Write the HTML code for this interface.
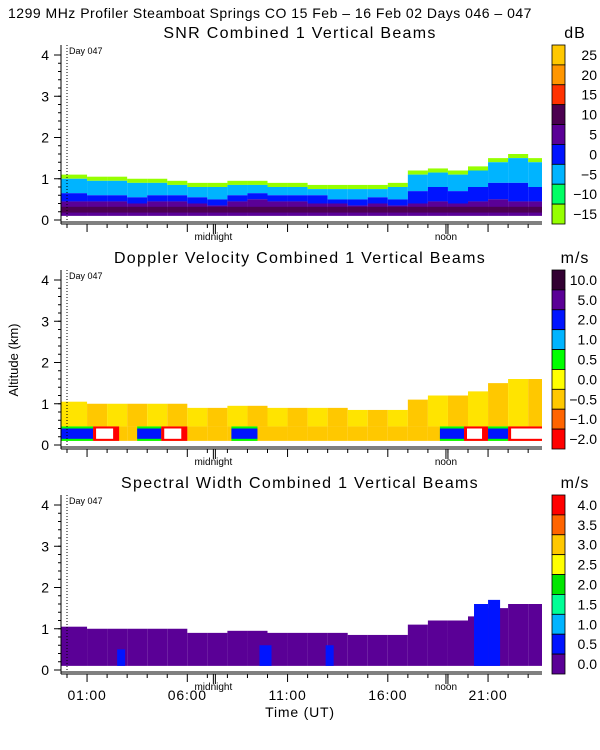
<!DOCTYPE html>
<html><head><meta charset="utf-8"><style>
body{margin:0;background:#fff}
svg{display:block;font-family:"Liberation Sans",sans-serif}
</style></head><body>
<svg id="s" width="600" height="750" viewBox="0 0 600 750">
<text x="8" y="18" font-size="14" letter-spacing="0.5">1299 MHz Profiler  Steamboat Springs CO  15 Feb – 16 Feb 02 Days 046 – 047</text>
<text x="300" y="38" font-size="16" letter-spacing="1.3" text-anchor="middle">SNR Combined 1 Vertical Beams</text>
<text x="300" y="263" font-size="16" letter-spacing="1.3" text-anchor="middle">Doppler Velocity Combined 1 Vertical Beams</text>
<text x="300" y="488" font-size="16" letter-spacing="1.3" text-anchor="middle">Spectral Width Combined 1 Vertical Beams</text>
<text x="18" y="360" font-size="13" text-anchor="middle" transform="rotate(-90 18 360)">Altitude (km)</text>
<text x="300" y="717" font-size="14" letter-spacing="0.8" text-anchor="middle">Time (UT)</text>
<g id="g"></g>
</svg>
<script>
const hours=[0,1,2,3,4,5,6,7,8,9,10,11,12,13,14,15,16,17,18,19,20,21,22,23];
const echoTop=[1.1,1.05,1.05,1.0,1.0,0.95,0.9,0.9,0.95,0.95,0.9,0.9,0.85,0.85,0.85,0.85,0.9,1.2,1.25,1.2,1.3,1.5,1.6,1.5];
const blueTop=[0.65,0.6,0.6,0.55,0.6,0.6,0.55,0.5,0.6,0.65,0.6,0.6,0.6,0.5,0.5,0.55,0.5,0.7,0.8,0.7,0.8,0.9,0.9,0.8];
const purpleTop=[0.45,0.45,0.45,0.4,0.45,0.45,0.4,0.35,0.45,0.5,0.45,0.45,0.4,0.4,0.35,0.4,0.35,0.4,0.45,0.4,0.45,0.5,0.45,0.45];
const dopTop=[1.05,1.0,1.0,1.0,1.0,1.0,0.9,0.9,0.95,0.95,0.9,0.9,0.9,0.9,0.85,0.85,0.85,1.1,1.2,1.2,1.3,1.5,1.6,1.6];
const lowSegStart=[-0.3,1.3,3.5,4.7,8.2,18.6,19.8,21.0,22.0];
const lowSegEnd=[1.3,2.6,4.7,6.0,9.5,19.8,21.0,22.0,24.0];
const lowSegType=["blue","red","blue","red","blue","blue","red","blue","red"];
const wBlueStart=[2.5,9.6,12.9,20.3,21.0];
const wBlueEnd=[2.9,10.2,13.3,21.0,21.6];
const wBlueTop=[0.5,0.6,0.6,1.6,1.7];
const snrLabels=["25","20","15","10","5","0","−5","−10","−15"];
const snrColors=["#ffc800","#ff9600","#ff3200","#4b0050","#5a0096","#0014ff","#00b4ff","#00ff64","#96ff00"];
const dopLabels=["10.0","5.0","2.0","1.0","0.5","0.0","−0.5","−1.0","−2.0"];
const dopColors=["#320032","#5a0096","#0014ff","#00b4ff","#00ff00","#ffff00","#ffc800","#ff6400","#ff0000"];
const widLabels=["4.0","3.5","3.0","2.5","2.0","1.5","1.0","0.5","0.0"];
const widColors=["#ff0000","#ff6400","#ffc800","#ffff00","#00e600","#00ff96","#00b4ff","#0014ff","#5a0096"];
const timeLabels=["01:00","06:00","11:00","16:00","21:00"];
const timeLabelHours=[1,6,11,16,21];
const yTicks=[0,1,2,3,4];
const NS="http://www.w3.org/2000/svg",G=document.getElementById('g');
const X0=61,X1=542;
function xs(h){return 67+h*20.05;}
function ys(p,km){return 220+225*p-km*41.25;}
function el(t,a,txt){const e=document.createElementNS(NS,t);for(const k in a)e.setAttribute(k,a[k]);if(txt!=null)e.textContent=txt;G.appendChild(e);return e;}
function rect(p,h0,h1,k0,k1,fill,name){const xa=Math.max(X0,xs(h0)),xb=Math.min(X1,xs(h1));const ya=ys(p,k1),yb=ys(p,k0);if(xb<=xa||yb<=ya)return;const r=el('rect',{x:xa,y:ya,width:xb-xa,height:yb-ya,fill:fill});

}
hours.forEach((h,i)=>{const a=i===0?-0.3:h,b=h+1;
rect(0,a,b,echoTop[i]-0.1,echoTop[i],"#96ff00","snr-top-band");
rect(0,a,b,blueTop[i],echoTop[i]-0.1,"#00b4ff","snr-cyan-layer");
rect(0,a,b,purpleTop[i],blueTop[i],"#0014ff","snr-blue-layer");
rect(0,a,b,0.1,purpleTop[i],"#5a0096","snr-purple-layer");
rect(0,a,b,0.18,0.32,"#4b0050","snr-dark-layer");
rect(1,a,b,0.45,dopTop[i],(i%2?"#ffc800":"#ffe400"),"doppler-body");
rect(1,a,b,0.1,0.45,"#ffc800","doppler-low");
rect(2,a,b,0.1,dopTop[i],"#5a0096","width-body");
});
lowSegStart.forEach((s,i)=>{const e=lowSegEnd[i];
if(lowSegType[i]=="blue"){rect(1,s,e,0.1,0.45,"#00ff00","doppler-low-green");rect(1,s,e,0.15,0.4,"#0014ff","doppler-low-blue");}
else{rect(1,s,e,0.1,0.45,"#ff0000","doppler-low-red");rect(1,s+0.15,e-0.3,0.15,0.4,"#ffffff","doppler-low-white");}});
wBlueStart.forEach((s,i)=>rect(2,s,wBlueEnd[i],0.1,wBlueTop[i],"#0014ff","width-blue-patch"));
for(let p=0;p<3;p++){
 const yb=224+225*p;
 el('line',{x1:X0,y1:45+225*p,x2:X0,y2:yb,stroke:"#000"});
 el('line',{x1:X0,y1:yb,x2:X1,y2:yb,stroke:"#000"});
 el('line',{x1:X0,y1:yb-2,x2:X1,y2:yb-2,stroke:"#000"});
 el('line',{x1:xs(0),y1:45+225*p,x2:xs(0),y2:yb-3,stroke:"#000","stroke-dasharray":"1,2"});
 const d=el('text',{x:69,y:54+225*p,"font-size":9},"Day 047");
 
 
 for(let k=0;k<=4.2;k+=0.2){const y=ys(p,k);el('line',{x1:X0-3,y1:y,x2:X0,y2:y,stroke:"#000"});}
 yTicks.forEach(v=>{const y=ys(p,v);el('line',{x1:X0-7,y1:y,x2:X0,y2:y,stroke:"#000"});
 const t=el('text',{x:X0-12,y:y+5,"font-size":14,"text-anchor":"end"},String(v));
 
 });
 for(let h=0;h<24;h++){const x=xs(h);el('line',{x1:x,y1:yb,x2:x,y2:yb+(h%5==1?8:4),stroke:"#000"});}
 [7.3,18.9].forEach(h=>{el('line',{x1:xs(h),y1:yb,x2:xs(h),y2:yb+10,stroke:"#000"});el('line',{x1:xs(h)+2,y1:yb,x2:xs(h)+2,y2:yb+10,stroke:"#000"});});
 const m=el('text',{x:xs(7.3),y:yb+16,"font-size":10,"text-anchor":"middle"},"midnight");
 
 
 const n=el('text',{x:xs(18.9),y:yb+16,"font-size":10,"text-anchor":"middle"},"noon");
 
 
 const labs=[snrLabels,dopLabels,widLabels][p],cols=[snrColors,dopColors,widColors][p];
 const top=45+225*p,sh=(yb-top)/9;
 cols.forEach((c,i)=>{const r=el('rect',{x:552,y:top+i*sh,width:13,height:sh,fill:c,stroke:"#000","stroke-width":0.8});
 
 
 const t=el('text',{x:597,y:top+i*sh+sh/2+5,"font-size":14,"text-anchor":"end"},labs[i]);
 
 });
 const u=el('text',{x:575,y:top-7,"font-size":16,"letter-spacing":1,"text-anchor":"middle"},p==0?"dB":"m/s");
 
 
}
timeLabels.forEach((l,i)=>{const t=el('text',{x:xs(timeLabelHours[i]),y:700,"font-size":14,"letter-spacing":0.8,"text-anchor":"middle"},l);

});
</script>
</body></html>
